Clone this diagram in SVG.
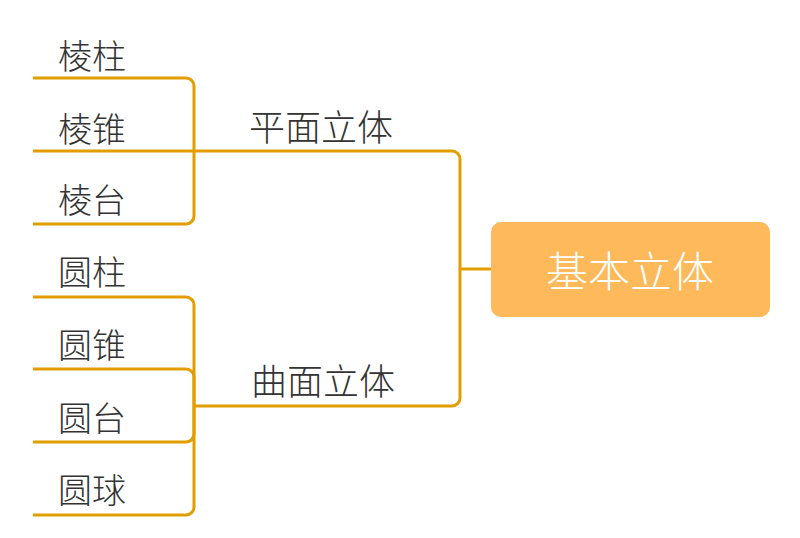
<svg xmlns="http://www.w3.org/2000/svg" width="800" height="538" viewBox="0 0 800 538">
<style>
.c{fill:none;stroke:#E29E00;stroke-width:3;stroke-linecap:butt;stroke-linejoin:round}
.t{font-family:"Noto Sans CJK SC","Noto Sans CJK JP",sans-serif;font-size:34px;font-weight:300;fill:#333;dominant-baseline:central}
.p{font-size:36px}
.m{font-family:"Noto Sans CJK SC","Noto Sans CJK JP",sans-serif;font-size:42px;font-weight:300;fill:#fff;dominant-baseline:central;text-anchor:middle}
</style>
<rect width="800" height="538" fill="#fff"/>
<g id="connectors">
<path class="c" d="M33,78 H186 A8,8 0 0 1 194,86 V216 A8,8 0 0 1 186,224 H33"/>
<path class="c" d="M33,151 H452 A8,8 0 0 1 460,159 V398 A8,8 0 0 1 452,406 H194"/>
<path class="c" d="M460,269 H491"/>
<path class="c" d="M33,297 H186 A8,8 0 0 1 194,305 V507 A8,8 0 0 1 186,515 H33"/>
<path class="c" d="M33,369 H186 A8,8 0 0 1 194,377 V434 A8,8 0 0 1 186,442 H33"/>
</g>
<g id="root"><rect x="491" y="222" width="279" height="95" rx="10" fill="#FEB95B"/><text class="m" x="630" y="268">基本立体</text></g>
<g id="pingmian"><text class="t p" x="249" y="125">平面立体</text></g>
<g id="qumian"><text class="t p" x="251" y="379">曲面立体</text></g>
<g id="lengzhu"><text class="t" x="58" y="54">棱柱</text></g>
<g id="lengzhui"><text class="t" x="58" y="127">棱锥</text></g>
<g id="lengtai"><text class="t" x="58" y="198">棱台</text></g>
<g id="yuanzhu"><text class="t" x="58" y="270">圆柱</text></g>
<g id="yuanzhui"><text class="t" x="58" y="343">圆锥</text></g>
<g id="yuantai"><text class="t" x="58" y="416">圆台</text></g>
<g id="yuanqiu"><text class="t" x="58" y="488">圆球</text></g>
</svg>
